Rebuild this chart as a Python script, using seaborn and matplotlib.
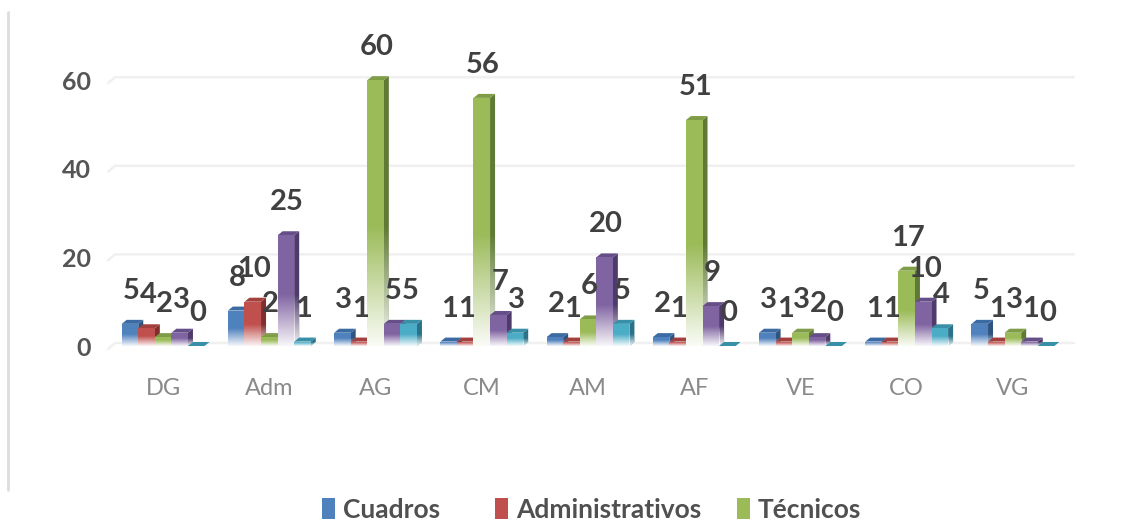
import numpy as np
import pandas as pd
import matplotlib
matplotlib.use("Agg")
import matplotlib.pyplot as plt
from matplotlib.lines import Line2D
from matplotlib.patches import Patch, Polygon
import seaborn as sns

categories = ["DG", "Adm", "AG", "CM", "AM", "AF", "VE", "CO", "VG"]
cuadros = [5, 8, 3, 1, 2, 2, 3, 1, 5]
administrativos = [4, 10, 1, 1, 1, 1, 1, 1, 1]
tecnicos = [2, 2, 60, 56, 6, 51, 3, 17, 3]
serie4 = [3, 25, 5, 7, 20, 9, 2, 10, 1]
serie5 = [0, 1, 5, 3, 5, 0, 0, 4, 0]
series_names = ["Cuadros", "Administrativos", "Técnicos", "Serie 4", "Serie 5"]
front = ["#4f81bd", "#c0504d", "#9bbb59", "#8064a2", "#4bacc6"]
side = ["#2f5480", "#7f2f2d", "#5f7a34", "#4f3b6b", "#2b7288"]
top = ["#3c6ba3", "#a33f3c", "#7f9c46", "#664f88", "#3790a8"]

sns.set_theme(style="white")
plt.rcParams["font.family"] = ["Lato", "DejaVu Sans"]

df = pd.DataFrame({"cat": categories, "Cuadros": cuadros, "Administrativos": administrativos,
                   "Técnicos": tecnicos, "Serie 4": serie4, "Serie 5": serie5})
long = df.melt(id_vars="cat", var_name="serie", value_name="valor")

W, H = 1133, 521
fig = plt.figure(figsize=(W / 100, H / 100), dpi=100, facecolor="white")
L, R, B, T = 110, 1066, 346, 53.6
ax = fig.add_axes([L / W, 1 - B / H, (R - L) / W, (B - T) / H])
sns.barplot(data=long, x="cat", y="valor", hue="serie", hue_order=series_names,
            palette=front, width=0.78, gap=0, legend=False, ax=ax, saturation=1,
            edgecolor="none", linewidth=0)
ax.set_xlim(-0.5, 8.5)
ax.set_ylim(0, 66)
sns.despine(ax=ax, left=True, bottom=True)
ax.set_xlabel("")
ax.set_ylabel("")
ax.set_yticks([0, 20, 40, 60])
px_x = 9.0 / (R - L)
px_y = 66.0 / (B - T)

# depth gridlines
for v in [0, 20, 40, 60]:
    ax.plot([-0.5 - 2 * px_x, -0.5 + 5 * px_x, 8.5 + 8 * px_x],
            [v - 3 * px_y, v + 3 * px_y, v + 3 * px_y],
            color="#f0f0f0", lw=1.8, zorder=0.5, clip_on=False)

ax.tick_params(axis="y", length=0, pad=14, labelsize=18, labelcolor="#555555")
ax.tick_params(axis="x", length=0, pad=23, labelsize=17, labelcolor="#8a8a8a")
for t in ax.get_yticklabels():
    t.set_fontweight("bold")

dx, dy = 5 * px_x, 4 * px_y
fade = np.linspace(0.95, 0, 64).reshape(-1, 1)
grad = np.dstack([np.ones_like(fade)] * 3 + [fade])

for i, container in enumerate(ax.containers):
    for bar, val in zip(container, np.array(df[series_names[i]])):
        x, w, h = bar.get_x(), bar.get_width(), bar.get_height()
        z = 2 + i * 0.1
        bar.set_zorder(z + 0.02)
        s = Polygon([(x + w, 0), (x + w + dx, dy), (x + w + dx, h + dy), (x + w, h)],
                    closed=True, fc=side[i], ec="none", zorder=z)
        t = Polygon([(x, h), (x + dx, h + dy), (x + w + dx, h + dy), (x + w, h)],
                    closed=True, fc=top[i], ec="none", zorder=z + 0.01)
        ax.add_patch(s)
        ax.add_patch(t)
        if h > 0:
            for clip in (bar, s):
                im = ax.imshow(grad, extent=(x, x + w + dx, 0, h * 0.45 + dy * 0.3),
                               origin="lower", aspect="auto",
                               zorder=z + 0.03 if clip is bar else z + 0.005,
                               interpolation="bilinear")
                im.set_clip_path(clip)
        ax.annotate(str(val), (x + w / 2, val), xytext=(1, 33 * 0.72), textcoords="offset points",
                    ha="center", va="center", fontsize=21, fontweight="bold", color="#404040",
                    zorder=10, annotation_clip=False)
ax.set_xlim(-0.5, 8.5)
ax.set_ylim(0, 66)

# left rule of the frame
fig.add_artist(Line2D([8 / W, 8 / W], [1 - 12 / H, 1 - 490 / H], color="#dddddd", lw=2))

for i, left in enumerate([322, 495, 737]):
    fig.legend([Patch(fc=front[i], ec="none")], [series_names[i]], loc="center left",
               bbox_to_anchor=(left / W, 1 - 510 / H), frameon=False,
               handlelength=0.5, handleheight=0.85, handletextpad=0.3, borderpad=0,
               borderaxespad=0, labelcolor="#505050",
               prop={"family": ["Lato", "DejaVu Sans"], "weight": "bold", "size": 19})

fig.savefig("out.png", dpi=100, facecolor="white")
